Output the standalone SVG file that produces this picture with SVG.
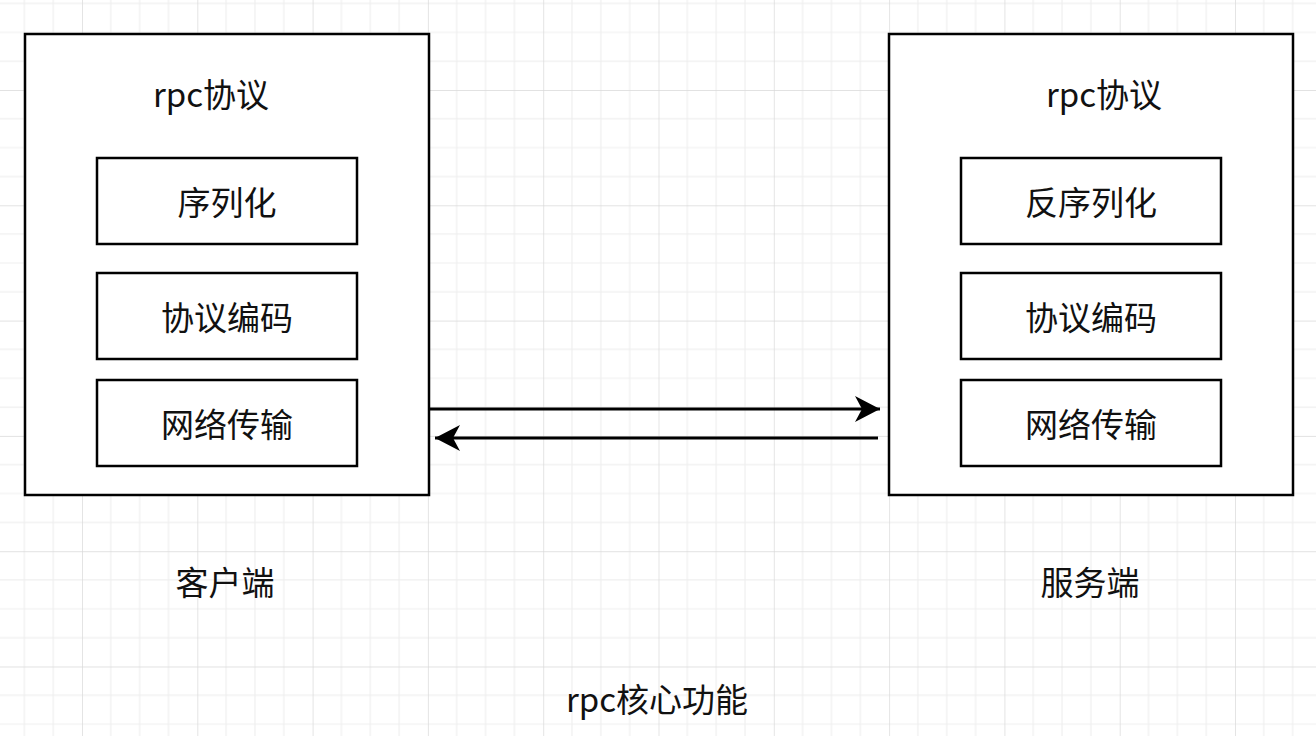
<svg xmlns="http://www.w3.org/2000/svg" width="1316" height="736" viewBox="0 0 1316 736">
<defs>
<pattern id="grid" width="115.3" height="115.3" patternUnits="userSpaceOnUse" patternTransform="translate(82 90)">
<path d="M28.8 0V115.3M57.65 0V115.3M86.5 0V115.3M0 28.8H115.3M0 57.65H115.3M0 86.5H115.3" stroke="#efefef" stroke-width="1.2" fill="none"/>
<path d="M0 0V115.3M0 0H115.3" stroke="#d9d9d9" stroke-width="1.4" fill="none"/>
</pattern>
<marker id="arr" markerUnits="userSpaceOnUse" markerWidth="30" markerHeight="30" refX="25" refY="13" orient="auto">
<path d="M25 13L0 0L7 13L0 26Z" fill="#000"/>
</marker>
<style>
.box{fill:#fff;stroke:#000;stroke-width:2.5}
.t{font-family:"Noto Sans CJK SC","Liberation Sans",sans-serif;font-size:33px;fill:#111;text-anchor:middle;dominant-baseline:central}
.c{stroke:#000;stroke-width:3;fill:none}
</style>
</defs>
<rect width="1316" height="736" fill="#fff"/>
<rect width="1316" height="736" fill="url(#grid)"/>
<g id="client">
<rect class="box" x="25" y="34" width="404" height="461"/>
<text class="t" x="211" y="93">rpc协议</text>
</g>
<g id="client-serialize">
<rect class="box" x="97" y="158" width="260" height="86"/>
<text class="t" x="227" y="201">序列化</text>
</g>
<g id="client-encode">
<rect class="box" x="97" y="273" width="260" height="86"/>
<text class="t" x="227" y="316">协议编码</text>
</g>
<g id="client-net">
<rect class="box" x="97" y="380" width="260" height="86"/>
<text class="t" x="227" y="423">网络传输</text>
</g>
<g id="server">
<rect class="box" x="889" y="34" width="404" height="461"/>
<text class="t" x="1104" y="93">rpc协议</text>
</g>
<g id="server-deserialize">
<rect class="box" x="961" y="158" width="260" height="86"/>
<text class="t" x="1091" y="201">反序列化</text>
</g>
<g id="server-encode">
<rect class="box" x="961" y="273" width="260" height="86"/>
<text class="t" x="1091" y="316">协议编码</text>
</g>
<g id="server-net">
<rect class="box" x="961" y="380" width="260" height="86"/>
<text class="t" x="1091" y="423">网络传输</text>
</g>
<g id="label-client"><text class="t" x="225" y="581">客户端</text></g>
<g id="label-server"><text class="t" x="1090" y="581">服务端</text></g>
<g id="title"><text class="t" x="657" y="698">rpc核心功能</text></g>
<g id="connectors">
<path class="c" d="M430 409H880" marker-end="url(#arr)"/>
<path class="c" d="M878 438H435" marker-end="url(#arr)"/>
</g>
</svg>
